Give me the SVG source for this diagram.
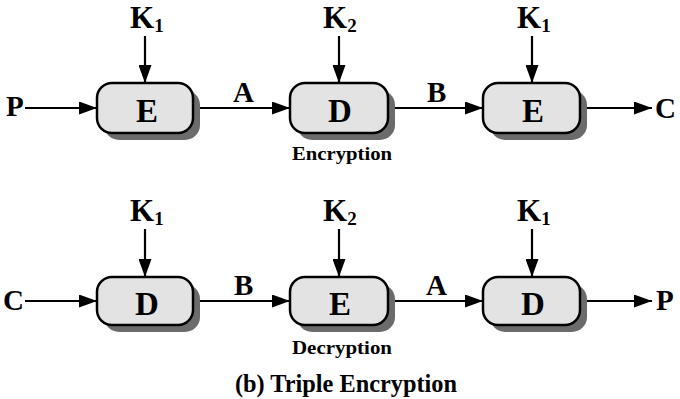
<svg xmlns="http://www.w3.org/2000/svg" width="680" height="399" viewBox="0 0 680 399">
<defs>
<style>
.box{fill:#e3e3e3;stroke:#000;stroke-width:2.5}
.sh{fill:#6b6b6b}
.ln{stroke:#000;stroke-width:2.2;fill:none}
.t{font-family:"Liberation Serif","Times New Roman",serif;font-weight:bold;fill:#000}
.big{font-size:33px}
.kk{font-size:31px}
.io{font-size:29px}
.sub{font-size:19px}
.sm{font-size:18px}
.ttl{font-size:25px}
</style>
<marker id="ah" markerWidth="18" markerHeight="13" refX="18" refY="6.5" orient="auto" markerUnits="userSpaceOnUse">
<path d="M0,0 L18,6.5 L0,13 Z" fill="#000"/>
</marker>
</defs>
<rect width="680" height="399" fill="#fff"/>

<g id="connectors">
<line class="ln" x1="25" y1="108" x2="97" y2="108" marker-end="url(#ah)"/>
<line class="ln" x1="193" y1="108" x2="290" y2="108" marker-end="url(#ah)"/>
<line class="ln" x1="388" y1="108" x2="483" y2="108" marker-end="url(#ah)"/>
<line class="ln" x1="580" y1="108" x2="652" y2="108" marker-end="url(#ah)"/>
<line class="ln" x1="145" y1="36" x2="145" y2="83" marker-end="url(#ah)"/>
<line class="ln" x1="339" y1="36" x2="339" y2="83" marker-end="url(#ah)"/>
<line class="ln" x1="532" y1="36" x2="532" y2="83" marker-end="url(#ah)"/>

<line class="ln" x1="25" y1="301" x2="97" y2="301" marker-end="url(#ah)"/>
<line class="ln" x1="193" y1="301" x2="290" y2="301" marker-end="url(#ah)"/>
<line class="ln" x1="388" y1="301" x2="483" y2="301" marker-end="url(#ah)"/>
<line class="ln" x1="580" y1="301" x2="652" y2="301" marker-end="url(#ah)"/>
<line class="ln" x1="145" y1="229" x2="145" y2="277" marker-end="url(#ah)"/>
<line class="ln" x1="339" y1="229" x2="339" y2="277" marker-end="url(#ah)"/>
<line class="ln" x1="532" y1="229" x2="532" y2="277" marker-end="url(#ah)"/>
</g>

<g id="labels">
<text class="t io" x="6" y="116">P</text>
<text class="t io" x="233" y="102">A</text>
<text class="t io" x="427" y="102">B</text>
<text class="t io" x="655" y="118">C</text>
<text class="t io" x="3" y="310">C</text>
<text class="t io" x="234" y="295">B</text>
<text class="t io" x="426" y="295">A</text>
<text class="t io" x="656" y="310">P</text>

<text class="t kk" x="130" y="28">K<tspan class="sub" dy="4">1</tspan></text>
<text class="t kk" x="323" y="28">K<tspan class="sub" dy="4">2</tspan></text>
<text class="t kk" x="517" y="28">K<tspan class="sub" dy="4">1</tspan></text>
<text class="t kk" x="130" y="221">K<tspan class="sub" dy="4">1</tspan></text>
<text class="t kk" x="323" y="221">K<tspan class="sub" dy="4">2</tspan></text>
<text class="t kk" x="517" y="221">K<tspan class="sub" dy="4">1</tspan></text>

<text class="t sm" x="292" y="160" textLength="100" lengthAdjust="spacingAndGlyphs">Encryption</text>
<text class="t sm" x="292" y="354" textLength="100" lengthAdjust="spacingAndGlyphs">Decryption</text>
<text class="t ttl" x="235" y="392" textLength="222" lengthAdjust="spacingAndGlyphs">(b) Triple Encryption</text>
</g>

<g id="n1"><rect class="sh" x="104" y="90" width="96" height="50" rx="15"/><rect class="box" x="97" y="83" width="96" height="50" rx="15"/><text class="t big" x="147" y="122" text-anchor="middle">E</text></g>
<g id="n2"><rect class="sh" x="297" y="90" width="98" height="50" rx="15"/><rect class="box" x="290" y="83" width="98" height="50" rx="15"/><text class="t big" x="340" y="122" text-anchor="middle">D</text></g>
<g id="n3"><rect class="sh" x="490" y="90" width="97" height="50" rx="15"/><rect class="box" x="483" y="83" width="97" height="50" rx="15"/><text class="t big" x="533" y="122" text-anchor="middle">E</text></g>
<g id="n4"><rect class="sh" x="104" y="284" width="96" height="48" rx="15"/><rect class="box" x="97" y="277" width="96" height="48" rx="15"/><text class="t big" x="147" y="315" text-anchor="middle">D</text></g>
<g id="n5"><rect class="sh" x="297" y="284" width="98" height="48" rx="15"/><rect class="box" x="290" y="277" width="98" height="48" rx="15"/><text class="t big" x="340" y="315" text-anchor="middle">E</text></g>
<g id="n6"><rect class="sh" x="490" y="284" width="97" height="48" rx="15"/><rect class="box" x="483" y="277" width="97" height="48" rx="15"/><text class="t big" x="533" y="315" text-anchor="middle">D</text></g>
</svg>
